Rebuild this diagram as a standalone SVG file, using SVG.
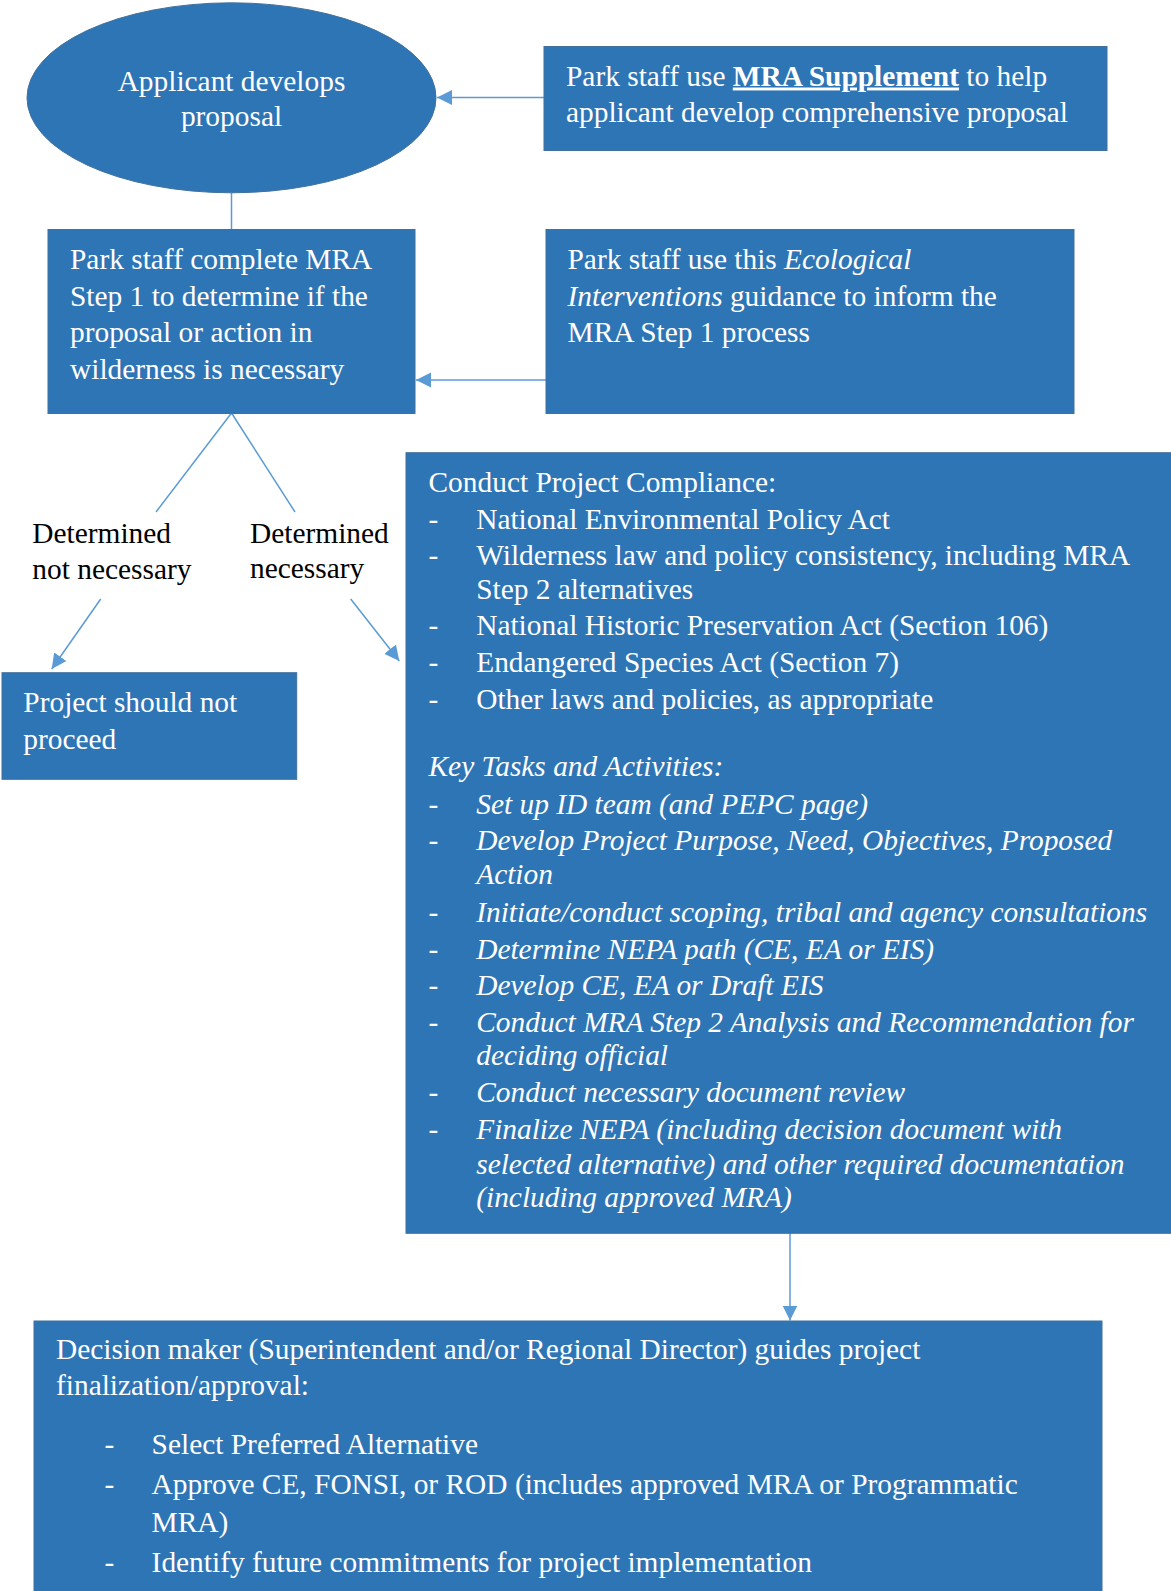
<svg xmlns="http://www.w3.org/2000/svg" width="1171" height="1591" viewBox="0 0 1171 1591">
<style>
.box{fill:#2E75B6;stroke:#41719C;stroke-width:1}
.t{font-family:"Liberation Serif","Times New Roman",serif;font-size:29.4px;fill:#FFFFFF}
.lbl{font-family:"Liberation Serif","Times New Roman",serif;font-size:29.4px;fill:#000000}
.it{font-style:italic}
.conn{stroke:#5B9BD5;stroke-width:1.5;fill:none}
</style>
<defs>
<marker id="arr" markerUnits="userSpaceOnUse" markerWidth="16" markerHeight="16" refX="15" refY="7.5" orient="auto">
<path d="M0,0 L15,7.5 L0,15 z" fill="#5B9BD5"/>
</marker>
</defs>
<rect width="1171" height="1591" fill="#FFFFFF"/>

<g id="connectors">
<line class="conn" x1="544" y1="97.5" x2="437" y2="97.5" marker-end="url(#arr)"/>
<line class="conn" x1="231.5" y1="193" x2="231.5" y2="229"/>
<line class="conn" x1="546" y1="380" x2="416" y2="380" marker-end="url(#arr)"/>
<line class="conn" x1="231.5" y1="413" x2="156" y2="512"/>
<line class="conn" x1="231.5" y1="413" x2="295" y2="512"/>
<line class="conn" x1="100.7" y1="599" x2="51.7" y2="669" marker-end="url(#arr)"/>
<line class="conn" x1="350.7" y1="599" x2="399.3" y2="661" marker-end="url(#arr)"/>
<line class="conn" x1="790" y1="1233" x2="790" y2="1320.5" marker-end="url(#arr)"/>
</g>

<g id="applicant">
<ellipse class="box" cx="231.5" cy="97.8" rx="204.5" ry="95"/>
<text class="t" x="231.5" y="91" text-anchor="middle">Applicant develops</text>
<text class="t" x="231.5" y="125.5" text-anchor="middle">proposal</text>
</g>

<g id="supplement">
<rect class="box" x="544" y="46.5" width="563" height="104"/>
<text class="t" x="566" y="85.5">Park staff use <tspan font-weight="bold" text-decoration="underline">MRA Supplement</tspan> to help</text>
<text class="t" x="566" y="122">applicant develop comprehensive proposal</text>
</g>

<g id="step1">
<rect class="box" x="48" y="229.5" width="367" height="184"/>
<text class="t" x="70" y="268.8">Park staff complete MRA</text>
<text class="t" x="70" y="305.5">Step 1 to determine if the</text>
<text class="t" x="70" y="342.2">proposal or action in</text>
<text class="t" x="70" y="378.8">wilderness is necessary</text>
</g>

<g id="ecological">
<rect class="box" x="546" y="229.5" width="528" height="184"/>
<text class="t" x="567.5" y="268.8">Park staff use this <tspan class="it">Ecological</tspan></text>
<text class="t" x="567.5" y="305.5"><tspan class="it">Interventions</tspan> guidance to inform the</text>
<text class="t" x="567.5" y="342.2">MRA Step 1 process</text>
</g>

<g id="label-not-necessary">
<text class="lbl" x="32.3" y="543">Determined</text>
<text class="lbl" x="32.3" y="578.5">not necessary</text>
</g>

<g id="label-necessary">
<text class="lbl" x="250" y="543">Determined</text>
<text class="lbl" x="250" y="577.5">necessary</text>
</g>

<g id="not-proceed">
<rect class="box" x="2" y="672.7" width="294.7" height="106.6"/>
<text class="t" x="23.3" y="712">Project should not</text>
<text class="t" x="23.3" y="748.6">proceed</text>
</g>

<g id="compliance">
<rect class="box" x="406" y="452.7" width="775" height="780.6"/>
<text class="t" x="428.5" y="492">Conduct Project Compliance:</text>
<text class="t" x="428.5" y="528.6">-</text><text class="t" x="476.2" y="528.6">National Environmental Policy Act</text>
<text class="t" x="428.5" y="565.3">-</text><text class="t" x="476.2" y="565.3">Wilderness law and policy consistency, including MRA</text>
<text class="t" x="476.2" y="598.6">Step 2 alternatives</text>
<text class="t" x="428.5" y="635.3">-</text><text class="t" x="476.2" y="635.3">National Historic Preservation Act (Section 106)</text>
<text class="t" x="428.5" y="672">-</text><text class="t" x="476.2" y="672">Endangered Species Act (Section 7)</text>
<text class="t" x="428.5" y="708.6">-</text><text class="t" x="476.2" y="708.6">Other laws and policies, as appropriate</text>
<text class="t it" x="428.5" y="776.3">Key Tasks and Activities:</text>
<text class="t" x="428.5" y="814.3">-</text><text class="t it" x="476.2" y="814.3">Set up ID team (and PEPC page)</text>
<text class="t" x="428.5" y="850.3">-</text><text class="t it" x="476.2" y="850.3">Develop Project Purpose, Need, Objectives, Proposed</text>
<text class="t it" x="476.2" y="884.3">Action</text>
<text class="t" x="428.5" y="922">-</text><text class="t it" x="476.2" y="922">Initiate/conduct scoping, tribal and agency consultations</text>
<text class="t" x="428.5" y="958.6">-</text><text class="t it" x="476.2" y="958.6">Determine NEPA path (CE, EA or EIS)</text>
<text class="t" x="428.5" y="995.3">-</text><text class="t it" x="476.2" y="995.3">Develop CE, EA or Draft EIS</text>
<text class="t" x="428.5" y="1032">-</text><text class="t it" x="476.2" y="1032">Conduct MRA Step 2 Analysis and Recommendation for</text>
<text class="t it" x="476.2" y="1065.3">deciding official</text>
<text class="t" x="428.5" y="1102">-</text><text class="t it" x="476.2" y="1102">Conduct necessary document review</text>
<text class="t" x="428.5" y="1138.6">-</text><text class="t it" x="476.2" y="1138.6">Finalize NEPA (including decision document with</text>
<text class="t it" x="476.2" y="1173.6">selected alternative) and other required documentation</text>
<text class="t it" x="476.2" y="1207">(including approved MRA)</text>
</g>

<g id="decision">
<rect class="box" x="34" y="1321" width="1068" height="280"/>
<text class="t" x="56" y="1358.6">Decision maker (Superintendent and/or Regional Director) guides project</text>
<text class="t" x="56" y="1395.3">finalization/approval:</text>
<text class="t" x="104.6" y="1453.6">-</text><text class="t" x="151.6" y="1453.6">Select Preferred Alternative</text>
<text class="t" x="104.6" y="1493.6">-</text><text class="t" x="151.6" y="1493.6">Approve CE, FONSI, or ROD (includes approved MRA or Programmatic</text>
<text class="t" x="151.6" y="1532">MRA)</text>
<text class="t" x="104.6" y="1572">-</text><text class="t" x="151.6" y="1572">Identify future commitments for project implementation</text>
</g>
</svg>
